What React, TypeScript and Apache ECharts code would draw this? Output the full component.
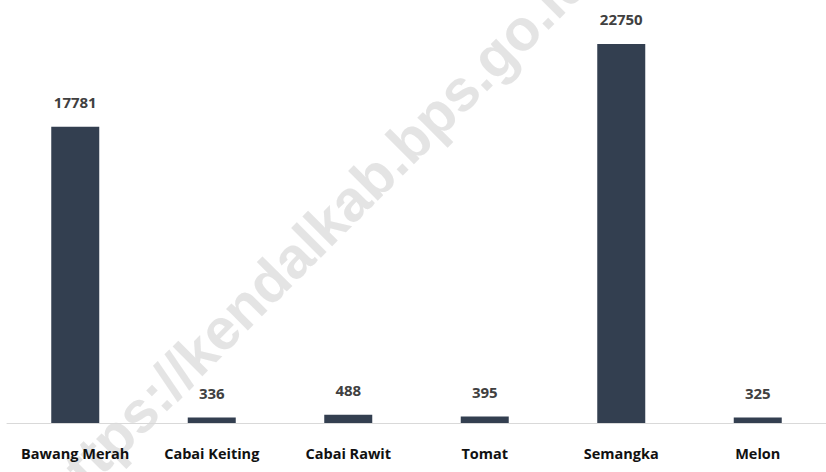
import React, { useEffect, useRef } from "react";
import * as echarts from "echarts";

const categories = ["Bawang Merah", "Cabai Keiting", "Cabai Rawit", "Tomat", "Semangka", "Melon"];
const values = [17781, 336, 488, 395, 22750, 325];
const watermark = "https://kendalkab.bps.go.id";

export default function App() {
  const ref = useRef<HTMLDivElement>(null);
  useEffect(() => {
    if (!ref.current) return;
    const chart = echarts.init(ref.current, undefined, { renderer: "svg" });
    chart.setOption({
      animation: false,
      backgroundColor: "#ffffff",
      grid: { left: 7, width: 825, top: 6.5, height: 416.5, containLabel: false },
      xAxis: {
        type: "category",
        data: categories,
        z: 5,
        axisLine: { lineStyle: { color: "#d9d9d9", width: 1 } },
        axisTick: { show: false },
        axisLabel: {
          interval: 0,
          margin: 23,
          color: "#111111",
          fontWeight: "bold",
          fontSize: 14.5,
          fontFamily: "'Open Sans', sans-serif",
        },
      },
      yAxis: { type: "value", min: 0, max: 25000, show: false, splitLine: { show: false } },
      series: [
        {
          type: "bar",
          data: values,
          barWidth: 48,
          z: 5,
          itemStyle: { color: "#333F50" },
          label: {
            show: true,
            position: "top",
            distance: 17,
            color: "#404040",
            fontWeight: "bold",
            fontSize: 15,
            fontFamily: "'Open Sans', sans-serif",
          },
        },
      ],
      graphic: [
        {
          type: "text",
          x: 314,
          y: 236,
          rotation: (45 * Math.PI) / 180,
          z: 0,
          silent: true,
          style: {
            text: watermark,
            font: "bold 58px 'Liberation Sans', Arial, sans-serif",
            fill: "#e1e1e1",
            align: "center",
            verticalAlign: "middle",
            opacity: 0.9,
          },
        },
      ],
    });
    return () => chart.dispose();
  }, []);
  return <div ref={ref} style={{ width: 826, height: 472, position: "absolute", left: 0, top: 0 }} />;
}
